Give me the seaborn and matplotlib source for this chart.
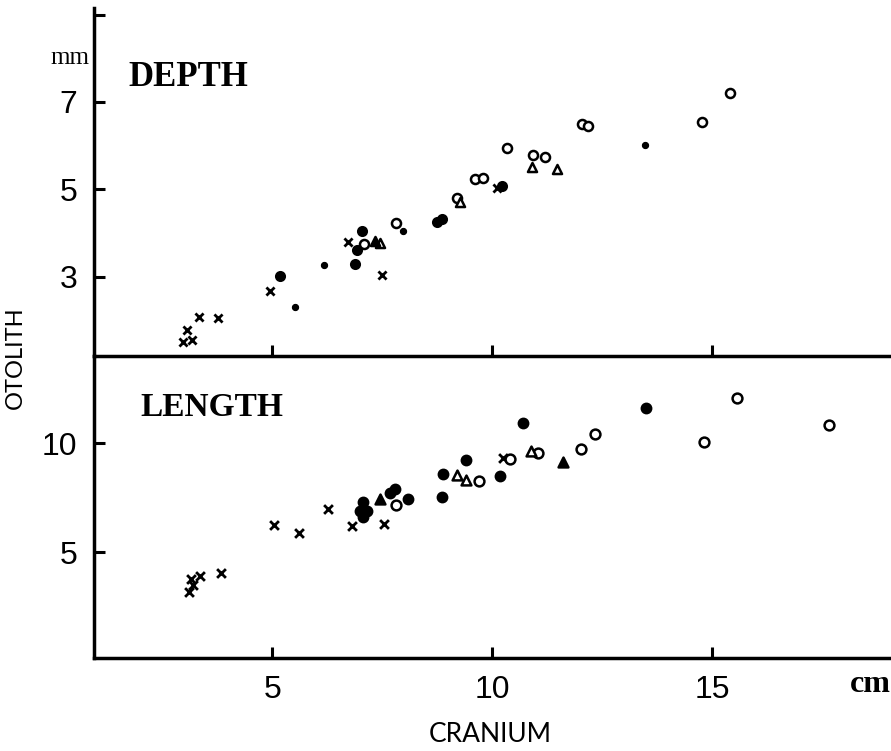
import pandas as pd
import seaborn as sns
import matplotlib.pyplot as plt

# Otolith depth vs cranium length (upper panel)
depth_cranium = [2.97, 3.18, 3.06, 3.34, 3.77, 4.95, 5.18, 5.52, 6.19, 6.72,
                 7.05, 6.93, 7.08, 6.89, 7.34, 7.45, 7.49, 7.82, 7.98, 8.75,
                 8.86, 9.20, 9.27, 9.61, 9.80, 10.11, 10.23, 10.35, 10.92, 10.90,
                 11.20, 11.47, 12.04, 12.19, 13.48, 14.78, 15.41]
depth_otolith = [1.52, 1.56, 1.79, 2.08, 2.07, 2.68, 3.03, 2.30, 3.27, 3.79,
                 4.04, 3.62, 3.75, 3.30, 3.83, 3.77, 3.05, 4.24, 4.04, 4.26,
                 4.33, 4.80, 4.72, 5.24, 5.26, 5.03, 5.08, 5.94, 5.79, 5.52,
                 5.75, 5.46, 6.50, 6.45, 6.02, 6.55, 7.20]
depth_kind = ["x", "x", "x", "x", "x", "x", "fc", "sd", "sd", "x",
              "fc", "fc", "oc", "fc", "ft", "ot", "x", "oc", "sd", "fc",
              "fc", "oc", "ot", "oc", "oc", "x", "fc", "oc", "oc", "ot",
              "oc", "ot", "oc", "oc", "sd", "oc", "oc"]

# Otolith length vs cranium length (lower panel)
length_cranium = [3.10, 3.19, 3.15, 3.36, 3.84, 5.05, 5.62, 6.27, 6.81, 7.06,
                  7.00, 7.15, 7.06, 7.45, 7.68, 7.80, 7.81, 8.08, 7.55, 8.86,
                  8.89, 9.41, 9.21, 9.41, 9.71, 10.17, 10.26, 10.41, 10.70, 10.89,
                  11.05, 11.62, 12.02, 12.33, 13.50, 14.82, 15.56, 17.66]
length_otolith = [3.18, 3.49, 3.75, 3.91, 4.05, 6.24, 5.89, 7.00, 6.19, 7.31,
                  6.89, 6.89, 6.62, 7.46, 7.69, 7.88, 7.16, 7.46, 6.27, 7.51,
                  8.58, 9.22, 8.53, 8.30, 8.27, 8.49, 9.34, 9.27, 10.93, 9.65,
                  9.57, 9.14, 9.72, 10.41, 11.62, 10.06, 12.08, 10.83]
length_kind = ["x", "x", "x", "x", "x", "x", "x", "x", "x", "fc",
               "fc", "fc", "fc", "ft", "fc", "fc", "oc", "fc", "x", "fc",
               "fc", "fc", "ot", "ot", "oc", "fc", "x", "oc", "fc", "ot",
               "oc", "ft", "oc", "oc", "fc", "oc", "oc", "oc"]

x_ticks = [5, 10, 15]
depth_ticks = [3, 5, 7, 9]
depth_labels = ["3", "5", "7", ""]
length_ticks = [5, 10]

# marker, face, size
styles = {
    "x": ("x", "black", 40),
    "fc": ("o", "black", 45),
    "sd": ("o", "black", 14),
    "oc": ("o", "white", 50),
    "ot": ("^", "white", 50),
    "ft": ("^", "black", 50),
}

sns.set_style("white")
plt.rcParams["font.family"] = ["Liberation Sans", "DejaVu Sans"]
plt.rcParams["text.color"] = "black"

fig = plt.figure(figsize=(8.91, 7.51), dpi=100)
ax_bot = fig.add_axes([94 / 891, 1 - 658 / 751, 1 - 94 / 891, 302 / 751])
ax_top = fig.add_axes([94 / 891, 1 - 356 / 751, 1 - 94 / 891, 348 / 751])
ax_top.patch.set_alpha(0)
ax_bot.patch.set_alpha(0)


def draw(ax, xs, ys, kinds, scale=1.0):
    df = pd.DataFrame({"cranium": xs, "otolith": ys, "kind": kinds})
    for kind, (marker, face, size) in styles.items():
        sub = df[df["kind"] == kind]
        if sub.empty:
            continue
        if marker == "x":
            sns.scatterplot(data=sub, x="cranium", y="otolith", marker="x",
                            color="black", s=size * scale, linewidth=2, ax=ax)
        else:
            sns.scatterplot(data=sub, x="cranium", y="otolith", marker=marker,
                            facecolor=face, edgecolor="black", s=size * scale,
                            linewidth=1.8, ax=ax)


draw(ax_top, depth_cranium, depth_otolith, depth_kind, scale=0.85)
draw(ax_bot, length_cranium, length_otolith, length_kind)

for ax in (ax_top, ax_bot):
    ax.set_xlim(0.95, 19.07)
    ax.set_xticks(x_ticks)
    ax.set_xlabel("")
    ax.set_ylabel("")
    ax.spines["right"].set_visible(False)
    ax.spines["top"].set_visible(False)
    for side in ("left", "bottom"):
        ax.spines[side].set_linewidth(2.5)
        ax.spines[side].set_color("black")
    ax.tick_params(direction="in", length=8, width=2.2, colors="black",
                   labelsize=23, pad=12, bottom=True, left=True)

ax_top.set_ylim(1.19, 9.15)
ax_top.set_yticks(depth_ticks)
ax_top.set_yticklabels(depth_labels)
ax_top.tick_params(axis="x", labelbottom=False)

ax_bot.set_ylim(0.14, 14)
ax_bot.set_yticks(length_ticks)
ax_bot.set_xticklabels([str(t) for t in x_ticks], fontsize=23)

serif = ["Liberation Serif", "DejaVu Serif"]
ax_top.text(0.043, 0.8, "DEPTH", transform=ax_top.transAxes, fontsize=25,
            fontweight="bold", family=serif, va="center")
ax_bot.text(0.058, 0.83, "LENGTH", transform=ax_bot.transAxes, fontsize=24,
            fontweight="bold", family=serif, va="center")
fig.text(70 / 891, 1 - 58 / 751, "mm", fontsize=18, family=serif,
         ha="center", va="center")
fig.text(870 / 891, 1 - 685 / 751, "cm", fontsize=23, fontweight="bold",
         family=serif, ha="center", va="center")
fig.text(490 / 891, 1 - 735 / 751, "CRANIUM", fontsize=19,
         family=["Lato", "DejaVu Sans"], ha="center", va="center")
fig.text(15 / 891, 1 - 358 / 751, "OTOLITH", fontsize=17, rotation=90,
         family=["Lato", "DejaVu Sans"], ha="center", va="center")

fig.savefig("out.png", dpi=100)
